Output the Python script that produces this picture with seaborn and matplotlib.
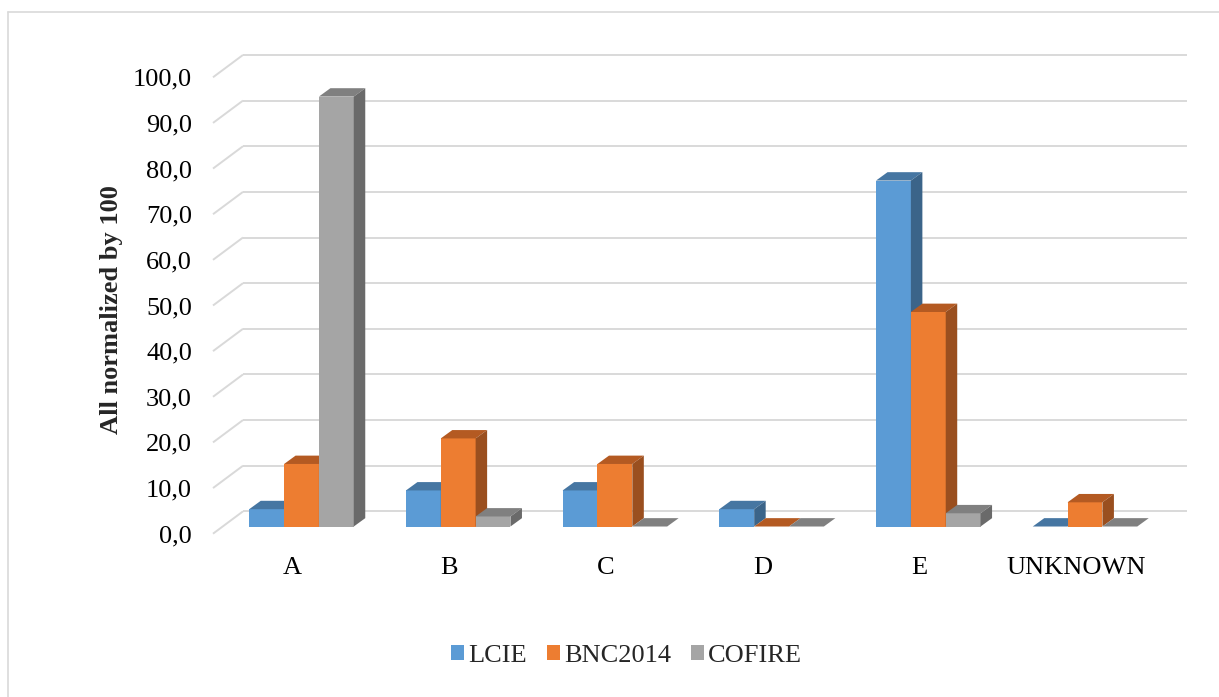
import numpy as np
import pandas as pd
import matplotlib
matplotlib.use("Agg")
import matplotlib.pyplot as plt
from matplotlib.patches import Polygon, Patch
from matplotlib.lines import Line2D
import seaborn as sns

# ---- data -------------------------------------------------------------
categories = ["A", "B", "C", "D", "E", "UNKNOWN"]
series = ["LCIE", "BNC2014", "COFIRE"]
lcie = [3.8, 7.9, 7.9, 3.8, 75.8, 0.0]
bnc2014 = [13.7, 19.3, 13.7, 0.0, 47.0, 5.3]
cofire = [94.2, 2.2, 0.0, 0.0, 2.9, 0.0]
y_ticks = [0, 10, 20, 30, 40, 50, 60, 70, 80, 90, 100]

# ---- styling ------------------------------------------------------------
front_colors = ["#5B9BD5", "#ED7D31", "#A5A5A5"]
top_colors = ["#4676A2", "#B45A22", "#808080"]
side_colors = ["#3B6489", "#9A4F1F", "#6A6A6A"]
grid_color = "#D9D9D9"

sns.set_style("white")
plt.rcParams["font.family"] = ["Liberation Serif", "DejaVu Serif"]
FS = 19

W, H = 1219, 697
fig = plt.figure(figsize=(W / 100, H / 100), dpi=100)

# axes = front plane of the bars (pixel geometry of the 3-D frame)
ax_left_px, ax_right_px = 223.15, 223.15 + 6 * 156.7
ax_bottom_px, ax_top_px = 533.7, 533.7 - 463.6
ax = fig.add_axes([ax_left_px / W, 1 - ax_bottom_px / H,
                   (ax_right_px - ax_left_px) / W, (ax_bottom_px - ax_top_px) / H])

df = pd.DataFrame({
    "category": categories * 3,
    "series": np.repeat(series, len(categories)),
    "value": lcie + bnc2014 + cofire,
})

sns.barplot(data=df, x="category", y="value", hue="series", order=categories,
            hue_order=series, palette=front_colors, saturation=1, width=0.667,
            errorbar=None, linewidth=0, legend=False, ax=ax)

ax.set_xlim(-0.5, 5.5)
ax.set_ylim(0, 100)

# pixel -> data conversion for the depth offsets
px_x = 6 / (ax_right_px - ax_left_px)
px_y = 100 / (ax_bottom_px - ax_top_px)

def off(dx_px, dy_px):
    return dx_px * px_x, dy_px * px_y

# depth of one bar, back wall, and front edge of the floor
bdx, bdy = off(11.5, 8.5)
wdx, wdy = off(19.85, 15.4)
fdx, fdy = off(-10.15, -7.3)

# back wall grid lines and left-wall diagonals
x_wall_l = -0.5 + wdx
x_wall_r = x_wall_l + off(944, 0)[0]
for v in y_ticks:
    ax.plot([x_wall_l, x_wall_r], [v + wdy, v + wdy], color=grid_color,
            lw=1.4, zorder=0.5, clip_on=False, solid_capstyle="butt")
    ax.plot([-0.5 + fdx, x_wall_l], [v + fdy, v + wdy], color=grid_color,
            lw=1.4, zorder=0.5, clip_on=False, solid_capstyle="butt")

# 3-D top and side faces on each bar
for s, cont in enumerate(ax.containers):
    for bar in cont:
        x0, w, h = bar.get_x(), bar.get_width(), bar.get_height()
        bar.set_zorder(2 + 2 * s)
        top = Polygon([(x0, h), (x0 + w, h), (x0 + w + bdx, h + bdy), (x0 + bdx, h + bdy)],
                      closed=True, facecolor=top_colors[s], edgecolor="none",
                      zorder=2.5 + 2 * s, clip_on=False)
        side = Polygon([(x0 + w, 0), (x0 + w + bdx, bdy), (x0 + w + bdx, h + bdy), (x0 + w, h)],
                       closed=True, facecolor=side_colors[s], edgecolor="none",
                       zorder=2.5 + 2 * s, clip_on=False)
        ax.add_patch(top)
        ax.add_patch(side)

# axis ticks and labels (on the front edge of the floor)
ax.set_yticks([v + fdy for v in y_ticks],
              labels=[f"{v:.1f}".replace(".", ",") for v in y_ticks])
ax.set_xticks(np.arange(len(categories)) + off(-9, 0)[0], labels=categories)
ax.tick_params(axis="y", length=0, pad=22.4, labelsize=FS, labelcolor="black")
ax.tick_params(axis="x", length=0, pad=16.5, labelsize=FS, labelcolor="black")
ax.set_xlabel("")
ax.set_ylabel("All normalized by 100", fontsize=FS, fontweight="bold")
ax.yaxis.set_label_coords((111.5 - ax_left_px) / (ax_right_px - ax_left_px),
                          (ax_bottom_px - 310) / (ax_bottom_px - ax_top_px))
ax.yaxis.label.set_va("center")
for sp in ax.spines.values():
    sp.set_visible(False)
ax.set_facecolor("none")

# legend
handles = [Patch(facecolor=c, edgecolor="none", label=l) for c, l in zip(front_colors, series)]
fig.legend(handles=handles, loc="center", bbox_to_anchor=(626.5 / W, 1 - 656 / H),
           ncol=3, frameon=False, fontsize=FS, handlelength=0.5, handleheight=0.5,
           handletextpad=0.15, columnspacing=0.76, borderpad=0, borderaxespad=0)

# chart-area border
fig.add_artist(Line2D([8 / W, 8 / W], [0, 1 - 12 / H], transform=fig.transFigure,
                      color=grid_color, lw=1.2))
fig.add_artist(Line2D([8 / W, 1], [1 - 12 / H, 1 - 12 / H], transform=fig.transFigure,
                      color=grid_color, lw=1.2))

fig.savefig("out.png", dpi=100, facecolor="white")
